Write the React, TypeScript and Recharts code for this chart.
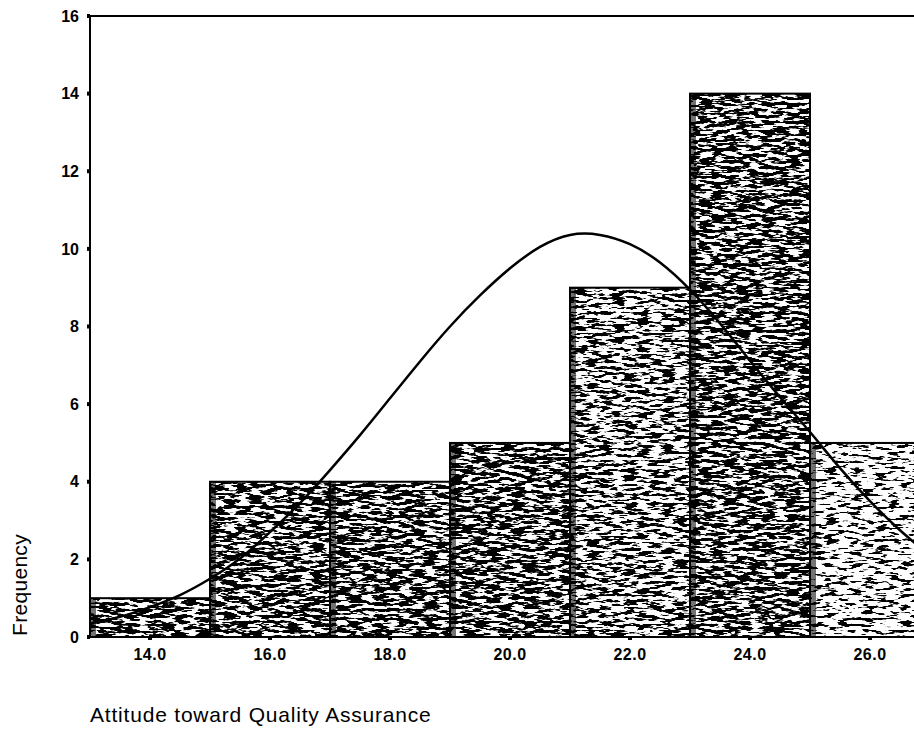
import React from 'react';
import { ComposedChart, Bar, Line, XAxis, YAxis, ReferenceLine } from 'recharts';

// histogram bins (width 2) and their counts
const binLabels = ['14.0', '16.0', '18.0', '20.0', '22.0', '24.0', '26.0'];
const frequency = [1, 4, 4, 5, 9, 14, 5];

// normal curve, every half unit
const curveX = [13.0, 13.5, 14.0, 14.5, 15.0, 15.5, 16.0, 16.5, 17.0, 17.5, 18.0, 18.5, 19.0, 19.5, 20.0, 20.5, 21.0, 21.5, 22.0, 22.5, 23.0, 23.5, 24.0, 24.5, 25.0, 25.5, 26.0, 26.5, 27.0];
const curveY = [0.35, 0.52, 0.77, 1.08, 1.5, 2.02, 2.7, 3.45, 4.3, 5.2, 6.15, 7.1, 8.0, 8.8, 9.5, 10.05, 10.36, 10.36, 10.12, 9.65, 8.95, 8.08, 7.12, 6.18, 5.28, 4.35, 3.5, 2.75, 2.1];

const xTicks = [14, 16, 18, 20, 22, 24, 26];
const yTicks = [0, 2, 4, 6, 8, 10, 12, 14, 16];

const data = binLabels.map((bin, i) => ({ bin, count: frequency[i] }));
const curve = curveX.map((x, i) => ({ x, y: curveY[i] }));

const font = '"Liberation Sans", Arial, sans-serif';
const grainByBar = ['dark', 'dark', 'dark', 'dark', 'mid', 'dark', 'light'];

function GrainBar(props: any) {
  const { x, y, width, height, index } = props;
  if (!height) return null;
  return (
    <g>
      <rect x={x} y={y} width={width} height={height} fill="#fff" />
      <rect x={x} y={y} width={width} height={height} fill="#000" filter={`url(#grain-${grainByBar[index]})`} />
      <rect x={x + 1} y={y} width={5} height={height} fill="#000" opacity={0.55} />
      <rect x={x} y={y} width={width} height={height} fill="none" stroke="#000" strokeWidth={2} />
    </g>
  );
}

function grainFilter(id: string, cut: number) {
  return (
    <filter id={id} x="0" y="0" width="1" height="1" colorInterpolationFilters="sRGB">
      <feTurbulence type="fractalNoise" baseFrequency="0.08 0.33" numOctaves={3} seed={7} />
      <feColorMatrix type="matrix" values={`0 0 0 0 0  0 0 0 0 0  0 0 0 0 0  16 0 0 0 ${-16 * cut}`} />
      <feComposite in2="SourceGraphic" operator="in" />
    </filter>
  );
}

export default function App() {
  return (
    <div style={{ position: 'fixed', left: 0, top: 0, width: 914, height: 730, overflow: 'hidden', background: '#fff' }}>
      <ComposedChart
        width={940}
        height={730}
        data={data}
        barCategoryGap={0}
        barGap={0}
        margin={{ top: 16, right: 10, bottom: 63, left: 0 }}
      >
        <defs>
          {grainFilter('grain-dark', 0.45)}
          {grainFilter('grain-mid', 0.49)}
          {grainFilter('grain-light', 0.54)}
        </defs>
        <XAxis xAxisId="bins" dataKey="bin" orientation="top" height={0} hide />
        <XAxis
          xAxisId="num"
          type="number"
          dataKey="x"
          domain={[13, 27]}
          ticks={xTicks}
          allowDataOverflow
          height={30}
          tickFormatter={(v: number) => v.toFixed(1)}
          axisLine={{ stroke: '#000', strokeWidth: 2 }}
          tickLine={{ stroke: '#000', strokeWidth: 4 }}
          tickSize={3}
          tickMargin={9}
          tick={{ fill: '#000', fontSize: 16, fontWeight: 'bold', fontFamily: font, letterSpacing: 0.5 }}
        />
        <YAxis
          width={90}
          domain={[0, 16]}
          ticks={yTicks}
          allowDataOverflow
          axisLine={{ stroke: '#000', strokeWidth: 2 }}
          tickLine={{ stroke: '#000', strokeWidth: 4 }}
          tickSize={3}
          tickMargin={8}
          tick={{ fill: '#000', fontSize: 16, fontWeight: 'bold', fontFamily: font }}
        />
        <ReferenceLine xAxisId="num" y={16} stroke="#000" strokeWidth={2} />
        <Bar xAxisId="bins" dataKey="count" shape={<GrainBar />} isAnimationActive={false} />
        <Line
          xAxisId="num"
          data={curve}
          dataKey="y"
          type="natural"
          stroke="#000"
          strokeWidth={2.5}
          dot={false}
          activeDot={false}
          isAnimationActive={false}
        />
      </ComposedChart>
      <div
        style={{
          position: 'absolute',
          left: 20,
          top: 585,
          transform: 'translate(-50%, -50%) rotate(-90deg)',
          fontFamily: font,
          fontSize: 21,
          letterSpacing: 0.3,
          whiteSpace: 'nowrap',
          color: '#000',
        }}
      >
        Frequency
      </div>
      <div
        style={{
          position: 'absolute',
          left: 90,
          top: 703,
          fontFamily: font,
          fontSize: 21,
          letterSpacing: 0.8,
          whiteSpace: 'nowrap',
          color: '#000',
        }}
      >
        Attitude toward Quality Assurance
      </div>
    </div>
  );
}
